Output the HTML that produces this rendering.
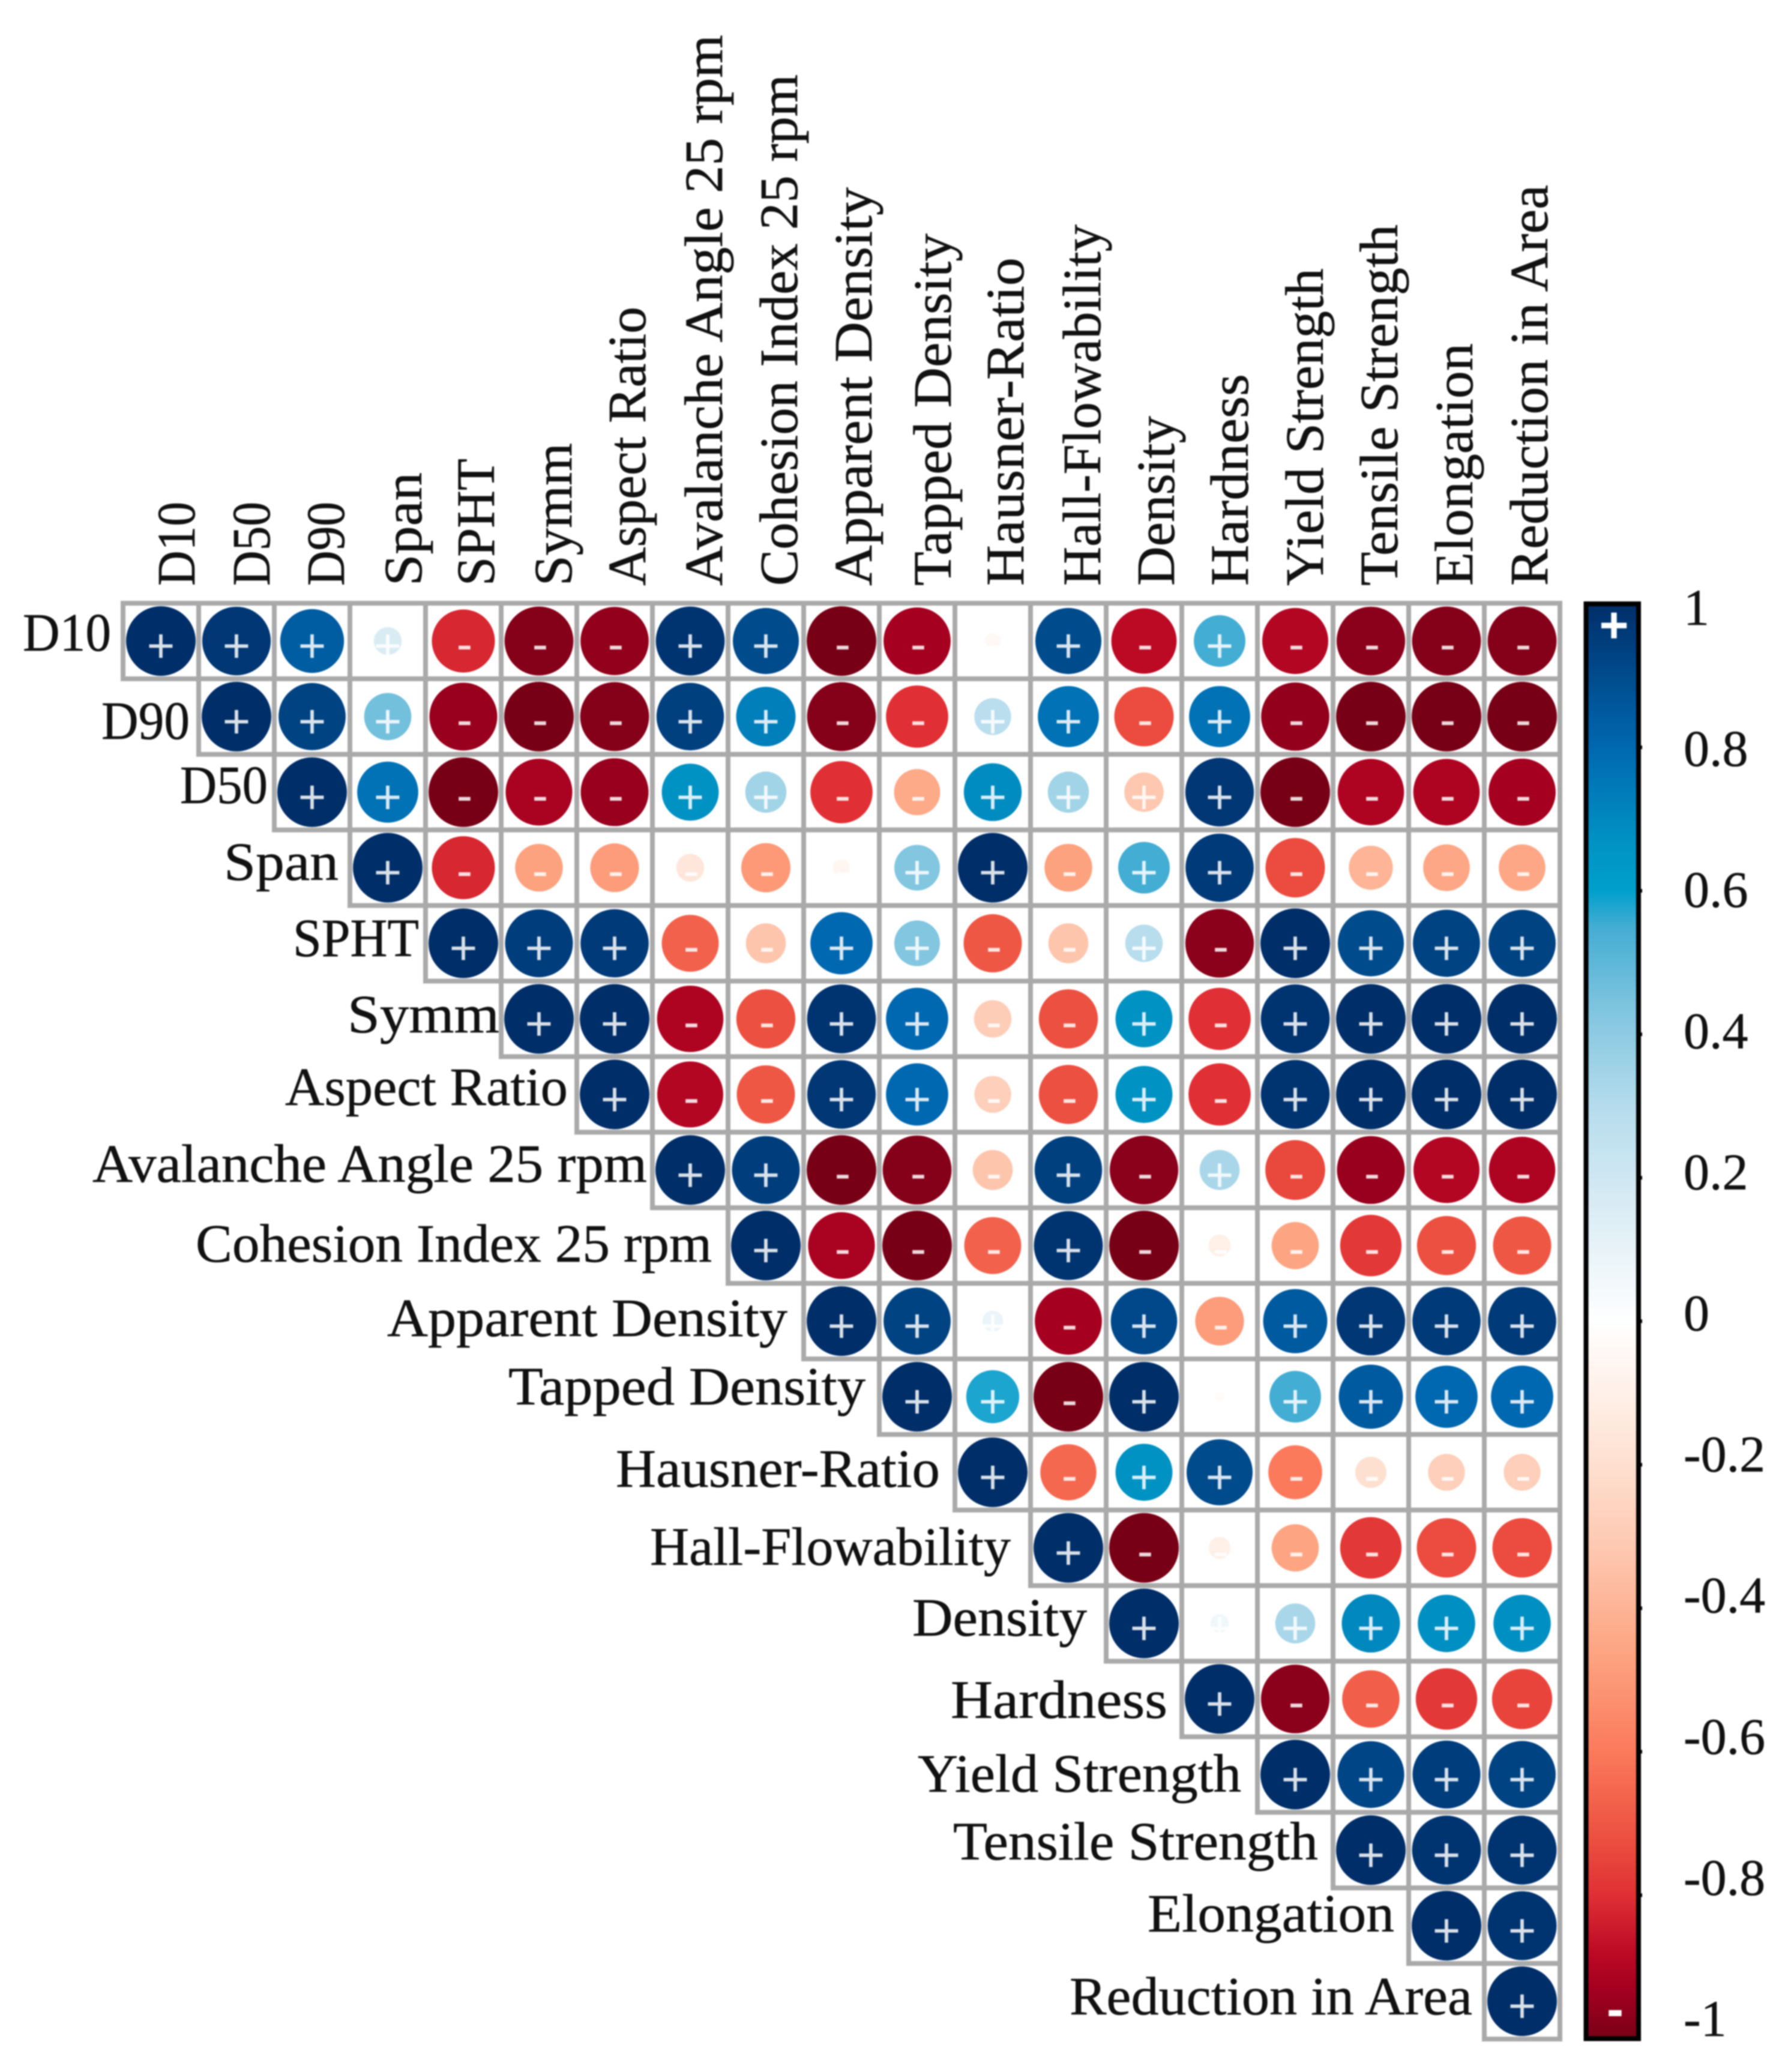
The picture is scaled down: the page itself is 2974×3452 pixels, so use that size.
<!DOCTYPE html>
<html lang="en">
<head>
<meta charset="utf-8">
<title>Correlation matrix</title>
<style>
html,body{margin:0;padding:0;background:#fff}
#chart{display:block;width:2974px;height:3452px;filter:blur(1px)}
.lab{font-family:"Liberation Serif",serif;font-size:90px;fill:#111;stroke:#111;stroke-width:.6px}
.sign{font-family:"Liberation Sans",sans-serif;font-size:80px;fill:#fff;fill-opacity:.85;text-anchor:middle}
.cbsign{font-family:"Liberation Sans",sans-serif;font-weight:bold;fill:#fff;text-anchor:middle}
.cbtick{font-family:"Liberation Serif",serif;font-size:86px;fill:#111;stroke:#111;stroke-width:.6px}
</style>
</head>
<body>
<svg id="chart" xmlns="http://www.w3.org/2000/svg" width="2974" height="3452" viewBox="0 0 2974 3452">
<rect width="2974" height="3452" fill="#fff"/>
<defs><linearGradient id="cbGrad" x1="0" y1="0" x2="0" y2="1"></linearGradient></defs>
<g id="cells"></g>
<g id="marks"></g>

<g>
<text class="lab" transform="translate(324,976) rotate(-90)" textLength="140" lengthAdjust="spacingAndGlyphs">D10</text>
<text class="lab" transform="translate(449,976) rotate(-90)" textLength="140" lengthAdjust="spacingAndGlyphs">D50</text>
<text class="lab" transform="translate(573,976) rotate(-90)" textLength="140" lengthAdjust="spacingAndGlyphs">D90</text>
<text class="lab" transform="translate(702,976) rotate(-90)" textLength="189" lengthAdjust="spacingAndGlyphs">Span</text>
<text class="lab" transform="translate(823,976) rotate(-90)" textLength="212" lengthAdjust="spacingAndGlyphs">SPHT</text>
<text class="lab" transform="translate(952,976) rotate(-90)" textLength="238" lengthAdjust="spacingAndGlyphs">Symm</text>
<text class="lab" transform="translate(1075,976) rotate(-90)" textLength="465" lengthAdjust="spacingAndGlyphs">Aspect Ratio</text>
<text class="lab" transform="translate(1203,976) rotate(-90)" textLength="918" lengthAdjust="spacingAndGlyphs">Avalanche Angle 25 rpm</text>
<text class="lab" transform="translate(1328,976) rotate(-90)" textLength="852" lengthAdjust="spacingAndGlyphs">Cohesion Index 25 rpm</text>
<text class="lab" transform="translate(1452,976) rotate(-90)" textLength="664" lengthAdjust="spacingAndGlyphs">Apparent Density</text>
<text class="lab" transform="translate(1584,976) rotate(-90)" textLength="587" lengthAdjust="spacingAndGlyphs">Tapped Density</text>
<text class="lab" transform="translate(1705,976) rotate(-90)" textLength="547" lengthAdjust="spacingAndGlyphs">Hausner-Ratio</text>
<text class="lab" transform="translate(1833,976) rotate(-90)" textLength="602" lengthAdjust="spacingAndGlyphs">Hall-Flowability</text>
<text class="lab" transform="translate(1956,976) rotate(-90)" textLength="283" lengthAdjust="spacingAndGlyphs">Density</text>
<text class="lab" transform="translate(2079,976) rotate(-90)" textLength="353" lengthAdjust="spacingAndGlyphs">Hardness</text>
<text class="lab" transform="translate(2204,976) rotate(-90)" textLength="529" lengthAdjust="spacingAndGlyphs">Yield Strength</text>
<text class="lab" transform="translate(2328,976) rotate(-90)" textLength="602" lengthAdjust="spacingAndGlyphs">Tensile Strength</text>
<text class="lab" transform="translate(2453,976) rotate(-90)" textLength="404" lengthAdjust="spacingAndGlyphs">Elongation</text>
<text class="lab" transform="translate(2578,976) rotate(-90)" textLength="668" lengthAdjust="spacingAndGlyphs">Reduction in Area</text>
</g>

<g>
<text class="lab" x="38" y="1084" textLength="147" lengthAdjust="spacingAndGlyphs">D10</text>
<text class="lab" x="169" y="1231" textLength="147" lengthAdjust="spacingAndGlyphs">D90</text>
<text class="lab" x="300" y="1338" textLength="146" lengthAdjust="spacingAndGlyphs">D50</text>
<text class="lab" x="373" y="1466" textLength="191" lengthAdjust="spacingAndGlyphs">Span</text>
<text class="lab" x="488" y="1593" textLength="210" lengthAdjust="spacingAndGlyphs">SPHT</text>
<text class="lab" x="579" y="1720" textLength="253" lengthAdjust="spacingAndGlyphs">Symm</text>
<text class="lab" x="475" y="1841" textLength="471" lengthAdjust="spacingAndGlyphs">Aspect Ratio</text>
<text class="lab" x="154" y="1969" textLength="924" lengthAdjust="spacingAndGlyphs">Avalanche Angle 25 rpm</text>
<text class="lab" x="326" y="2102" textLength="860" lengthAdjust="spacingAndGlyphs">Cohesion Index 25 rpm</text>
<text class="lab" x="645" y="2226" textLength="667" lengthAdjust="spacingAndGlyphs">Apparent Density</text>
<text class="lab" x="847" y="2340" textLength="595" lengthAdjust="spacingAndGlyphs">Tapped Density</text>
<text class="lab" x="1026" y="2477" textLength="540" lengthAdjust="spacingAndGlyphs">Hausner-Ratio</text>
<text class="lab" x="1083" y="2607" textLength="601" lengthAdjust="spacingAndGlyphs">Hall-Flowability</text>
<text class="lab" x="1520" y="2725" textLength="291" lengthAdjust="spacingAndGlyphs">Density</text>
<text class="lab" x="1584" y="2862" textLength="361" lengthAdjust="spacingAndGlyphs">Hardness</text>
<text class="lab" x="1529" y="2985" textLength="539" lengthAdjust="spacingAndGlyphs">Yield Strength</text>
<text class="lab" x="1588" y="3098" textLength="608" lengthAdjust="spacingAndGlyphs">Tensile Strength</text>
<text class="lab" x="1912" y="3218" textLength="411" lengthAdjust="spacingAndGlyphs">Elongation</text>
<text class="lab" x="1782" y="3356" textLength="671" lengthAdjust="spacingAndGlyphs">Reduction in Area</text>
</g>

<g id="colorbar">
<rect x="2642.5" y="1006" width="87.5" height="2390.5" fill="url(#cbGrad)" stroke="#000" stroke-width="8"/>
<text class="cbsign" x="2689" y="1070" font-size="84">+</text>
<text class="cbsign" x="2691" y="3376" font-size="84">-</text>
</g>
<g id="cbticks"></g>
</svg>

<script>
// Upper-triangle correlations, one array per row, starting at the diagonal.
const rowD10 = [1, 0.97, 0.84, 0.16, -0.82, -0.98, -0.96, 0.98, 0.9, -1, -0.93, -0.05, 0.9, -0.88, 0.55, -0.9, -0.97, -0.98, -0.98];
const rowD90 = [1, 0.93, 0.46, -0.95, -1, -0.98, 0.94, 0.73, -0.98, -0.8, 0.28, 0.77, -0.73, 0.77, -0.96, -1, -1, -1];
const rowD50 = [1, 0.77, -1, -0.92, -0.95, 0.67, 0.35, -0.8, -0.44, 0.69, 0.35, -0.32, 0.97, -1, -0.91, -0.91, -0.93];
const rowSpan = [1, -0.82, -0.47, -0.49, -0.16, -0.5, -0.06, 0.43, 1, -0.47, 0.55, 0.96, -0.73, -0.4, -0.45, -0.45];
const rowSPHT = [1, 0.95, 0.96, -0.67, -0.33, 0.8, 0.43, -0.7, -0.33, 0.29, -0.97, 1, 0.9, 0.93, 0.93];
const rowSymm = [1, 1, -0.91, -0.72, 0.98, 0.8, -0.29, -0.72, 0.67, -0.8, 0.98, 1, 1, 1];
const rowAspect = [1, -0.9, -0.7, 0.97, 0.8, -0.28, -0.72, 0.67, -0.8, 0.98, 1, 1, 1];
const rowAvalanche = [1, 0.95, -1, -0.98, -0.33, 0.94, -0.97, 0.33, -0.74, -0.95, -0.9, -0.91];
const rowCohesion = [1, -0.92, -1, -0.67, 0.98, -1, -0.1, -0.46, -0.78, -0.72, -0.7];
const rowApparent = [1, 0.93, 0.09, -0.93, 0.91, -0.49, 0.85, 0.97, 0.96, 0.96];
const rowTapped = [1, 0.58, -1, 1, -0.02, 0.55, 0.85, 0.8, 0.8];
const rowHausner = [1, -0.65, 0.67, 0.9, -0.6, -0.2, -0.28, -0.28];
const rowHall = [1, -1, -0.1, -0.46, -0.78, -0.73, -0.73];
const rowDensity = [1, 0.07, 0.33, 0.7, 0.68, 0.68];
const rowHardness = [1, -0.97, -0.68, -0.78, -0.75];
const rowYield = [1, 0.92, 0.95, 0.93];
const rowTensile = [1, 0.98, 0.98];
const rowElongation = [1, 0.98];
const rowReduction = [1];
const correlationRows = [rowD10, rowD90, rowD50, rowSpan, rowSPHT, rowSymm, rowAspect, rowAvalanche, rowCohesion, rowApparent, rowTapped, rowHausner, rowHall, rowDensity, rowHardness, rowYield, rowTensile, rowElongation, rowReduction];
const colorbarTicks = [1, 0.8, 0.6, 0.4, 0.2, 0, -0.2, -0.4, -0.6, -0.8, -1];
const colorValues = [1, 0.95, 0.9, 0.85, 0.8, 0.75, 0.67, 0.6, 0.55, 0.43, 0.3, 0.15, 0, -0.1, -0.2, -0.33, -0.47, -0.6, -0.72, -0.8, -0.88, -0.93, -1];
const colorHexes = ['#002e68', '#003d7c', '#004b8c', '#005a9f', '#0068b0', '#0078b8', '#0092c3', '#00a0cc', '#44add3', '#82c6e0', '#b5dcec', '#dcedf5', '#ffffff', '#fff0e8', '#fee0d0', '#fec5ad', '#fda27f', '#fb7a5c', '#ec5040', '#e03035', '#bc0a25', '#a50020', '#780016'];

const SVGNS = 'http://www.w3.org/2000/svg';
const originX = 205, originY = 1005, cellW = 126, cellH = 125.9, maxRadius = 58;
function xScale(c) { return originX + cellW * c; }
function yScale(r) { return originY + cellH * r; }
function radiusScale(v) { return maxRadius * Math.sqrt(Math.abs(v)); }
function barTickY(v) { return 1006 + (1 - v) / 2 * 2390.5; }
function tickLabelY(v) { return 1012 + (1 - v) / 0.2 * 235.1 + 29; }
function hexToRgb(h) { return [parseInt(h.substr(1, 2), 16), parseInt(h.substr(3, 2), 16), parseInt(h.substr(5, 2), 16)]; }
function colorFor(v) {
  if (v >= colorValues[0]) return colorHexes[0];
  for (let i = 1; i < colorValues.length; i++) {
    if (v >= colorValues[i]) {
      const t = (v - colorValues[i]) / (colorValues[i - 1] - colorValues[i]);
      const a = hexToRgb(colorHexes[i]), b = hexToRgb(colorHexes[i - 1]);
      return 'rgb(' + a.map(function (x, k) { return Math.round(x + (b[k] - x) * t); }).join(',') + ')';
    }
  }
  return colorHexes[colorHexes.length - 1];
}
function make(tag) { return document.createElementNS(SVGNS, tag); }

const cellsG = document.getElementById('cells');
const marksG = document.getElementById('marks');
correlationRows.forEach(function (row, r) {
  row.forEach(function (v, k) {
    const c = r + k;
    const cell = make('rect');
    
    
    cell.setAttribute('x', xScale(c));
    cell.setAttribute('y', yScale(r));
    cell.setAttribute('width', cellW);
    cell.setAttribute('height', cellH);
    cell.setAttribute('fill', '#fff');
    cell.setAttribute('stroke', '#aaaaaa');
    cell.setAttribute('stroke-width', '8');
    cellsG.appendChild(cell);

    const cx = xScale(c) + cellW / 2, cy = yScale(r) + cellH / 2;
    const dot = make('circle');
    
    
    dot.setAttribute('cx', cx);
    dot.setAttribute('cy', cy);
    dot.setAttribute('r', radiusScale(v));
    dot.setAttribute('fill', colorFor(v));
    marksG.appendChild(dot);

    // The reference prints a plus on the D50 / Density circle despite its negative colour.
    const plus = v >= 0 || (r === 2 && c === 13);
    const sign = make('text');
    
    
    sign.setAttribute('class', 'sign');
    sign.setAttribute('x', plus ? cx : cx + 2);
    sign.setAttribute('y', plus ? cy + 35 : cy + 32);
    sign.textContent = plus ? '+' : '-';
    marksG.appendChild(sign);
  });
});

const grad = document.getElementById('cbGrad');
colorValues.forEach(function (v, i) {
  const stop = make('stop');
  stop.setAttribute('offset', (1 - v) / 2);
  stop.setAttribute('stop-color', colorHexes[i]);
  grad.appendChild(stop);
});

const ticksG = document.getElementById('cbticks');
colorbarTicks.forEach(function (v) {
  const label = make('text');
  
  
  label.setAttribute('class', 'cbtick');
  label.setAttribute('x', 2805);
  label.setAttribute('y', tickLabelY(v));
  label.textContent = String(v);
  ticksG.appendChild(label);
  if (v !== 1 && v !== -1) {
    const nub = make('rect');
    
    
    nub.setAttribute('x', 2733);
    nub.setAttribute('y', barTickY(v) - 3);
    nub.setAttribute('width', 3);
    nub.setAttribute('height', 6);
    nub.setAttribute('fill', '#000');
    ticksG.appendChild(nub);
  }
});
</script>
</body>
</html>
